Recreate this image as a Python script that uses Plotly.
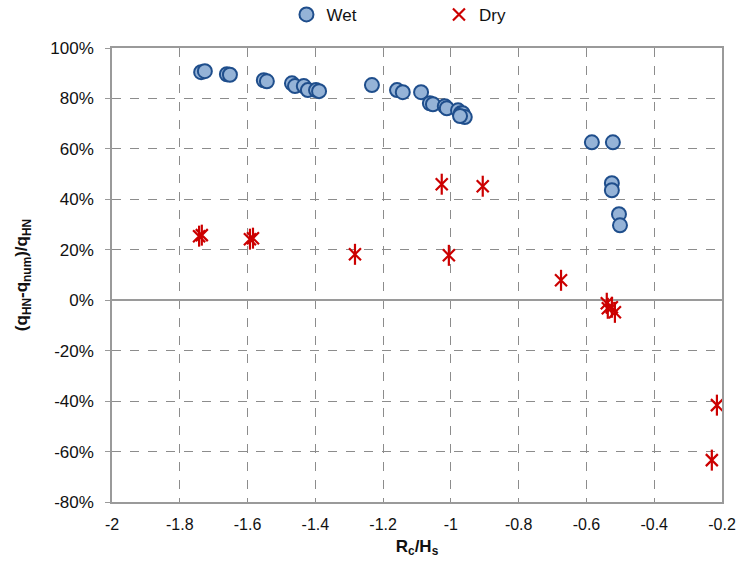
import plotly.graph_objects as go

# ---- data ----
wet_x = [-1.737, -1.726, -1.661, -1.652, -1.552, -1.543, -1.469, -1.460, -1.434, -1.422,
         -1.398, -1.389, -1.233, -1.159, -1.142, -1.088, -1.062, -1.053, -1.018, -1.012,
         -0.979, -0.971, -0.965, -0.959, -0.973, -0.584, -0.522, -0.525, -0.525, -0.504, -0.501]
wet_y = [0.904, 0.908, 0.896, 0.894, 0.872, 0.868, 0.860, 0.849, 0.849, 0.833,
         0.833, 0.829, 0.853, 0.833, 0.825, 0.825, 0.781, 0.777, 0.769, 0.761,
         0.753, 0.741, 0.741, 0.726, 0.730, 0.626, 0.626, 0.464, 0.436, 0.341, 0.297]

dry_x = [-1.743, -1.735, -1.593, -1.584, -1.283, -1.006, -1.027, -0.906, -0.675,
         -0.540, -0.537, -0.516, -0.525, -0.215, -0.230]
dry_y = [0.254, 0.258, 0.242, 0.246, 0.182, 0.178, 0.460, 0.452, 0.079,
         -0.012, -0.032, -0.048, -0.028, -0.416, -0.634]

x_tick_vals = [-2, -1.8, -1.6, -1.4, -1.2, -1, -0.8, -0.6, -0.4, -0.2]
x_tick_text = ["-2", "-1.8", "-1.6", "-1.4", "-1.2", "-1", "-0.8", "-0.6", "-0.4", "-0.2"]
y_tick_vals = [-0.8, -0.6, -0.4, -0.2, 0, 0.2, 0.4, 0.6, 0.8, 1.0]
y_tick_text = ["-80%", "-60%", "-40%", "-20%", "0%", "20%", "40%", "60%", "80%", "100%"]

FONT = "Liberation Sans, Arial, sans-serif"
RED = "#CC0000"

fig = go.Figure()
fig.add_trace(go.Scatter(
    x=wet_x, y=wet_y, mode="markers", name="Wet", legend="legend", showlegend=True,
    marker=dict(symbol="circle", size=14, color="#95B3D7",
                line=dict(color="#1F4E8C", width=2)),
))
fig.add_trace(go.Scatter(
    x=dry_x, y=dry_y, mode="markers", name="Dry", legend="legend2", showlegend=True,
    legendgroup="dry",
    marker=dict(symbol="x-thin-open", size=12, color=RED,
                line=dict(color=RED, width=2.2)),
))
fig.add_trace(go.Scatter(
    x=dry_x, y=dry_y, mode="markers", name="Dry", legend="legend2", showlegend=False,
    legendgroup="dry",
    marker=dict(symbol="line-ns-open", size=15, color=RED,
                line=dict(color=RED, width=2.2)),
))

fig.update_layout(
    width=736, height=570,
    margin=dict(l=112, r=14, t=48, b=68, autoexpand=False),
    paper_bgcolor="white", plot_bgcolor="white",
    showlegend=True,
    font=dict(family=FONT, size=17, color="#111"),
    legend=dict(orientation="h", x=0.286, xanchor="left", y=1.073, yanchor="middle",
                font=dict(size=17), itemwidth=30, bgcolor="rgba(0,0,0,0)"),
    legend2=dict(orientation="h", x=0.536, xanchor="left", y=1.073, yanchor="middle",
                 font=dict(size=17), itemwidth=30, bgcolor="rgba(0,0,0,0)"),
    xaxis=dict(
        range=[-2, -0.2], tickvals=x_tick_vals, ticktext=x_tick_text,
        showgrid=True, gridcolor="#8c8c8c", griddash="dash", gridwidth=1,
        showline=True, linecolor="#9a9a9a", linewidth=1.5, mirror=True,
        zeroline=False, ticks="", tickfont=dict(size=16), ticklabelstandoff=7,
        automargin=False,
        title=dict(text="<b>R<sub>c</sub>/H<sub>s</sub></b>", font=dict(size=17), standoff=8),
    ),
    yaxis=dict(
        range=[-0.8, 1.0], tickvals=y_tick_vals, ticktext=y_tick_text,
        showgrid=True, gridcolor="#8c8c8c", griddash="dash", gridwidth=1,
        showline=True, linecolor="#9a9a9a", linewidth=1.5, mirror=True,
        zeroline=True, zerolinecolor="#9a9a9a", zerolinewidth=1.5,
        ticks="outside", ticklen=5, tickcolor="#9a9a9a", tickfont=dict(size=17),
        ticklabelstandoff=8, automargin=False,
        title=dict(text="<b>(q<sub>HN</sub>-q<sub>num</sub>)/q<sub>HN</sub></b>",
                   font=dict(size=17), standoff=18),
    ),
)

fig.write_html("out.html", config={"displayModeBar": False},
               post_script="document.body.style.margin='0px';")
